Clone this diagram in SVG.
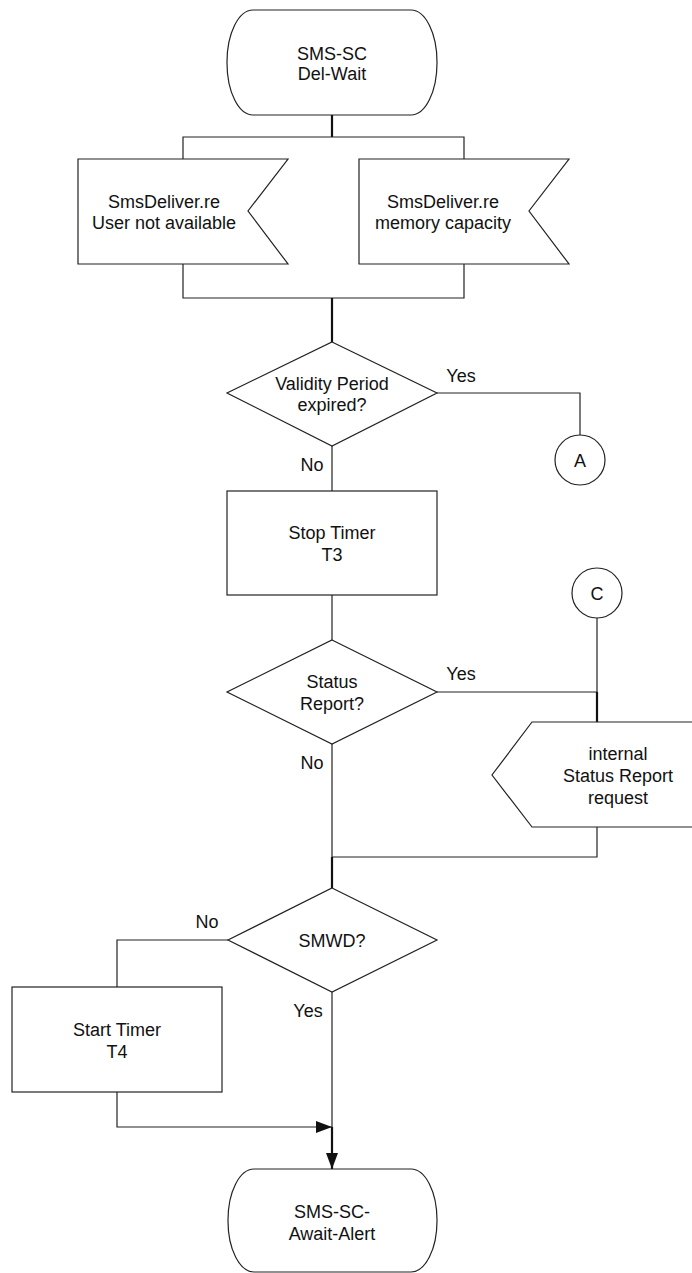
<svg xmlns="http://www.w3.org/2000/svg" width="692" height="1273" viewBox="0 0 692 1273">
<defs>
<style>
.s{fill:#fff;stroke:#222;stroke-width:1.2}
.c{fill:none;stroke:#222;stroke-width:1.2}
.b{fill:none;stroke:#111;stroke-width:2.2}
text{font-family:"Liberation Sans",Arial,sans-serif;font-size:18px;fill:#111;text-anchor:middle}
</style>
<marker id="ah" markerWidth="16" markerHeight="12" refX="16" refY="6" orient="auto" markerUnits="userSpaceOnUse">
<path d="M0,0 L16,6 L0,12 Z" fill="#111"/>
</marker>
</defs>
<rect width="692" height="1273" fill="#fff"/>
<g id="connectors">
<line class="b" x1="332" y1="115" x2="332" y2="137"/>
<polyline class="c" points="183,159 183,137 464,137 464,159"/>
<polyline class="c" points="183,264 183,298 464,298 464,264"/>
<line class="b" x1="332" y1="298" x2="332" y2="342"/>
<polyline class="c" points="437,393 580,393 580,435"/>
<line class="c" x1="332" y1="446" x2="332" y2="491"/>
<line class="c" x1="332" y1="595" x2="332" y2="640"/>
<line class="c" x1="437" y1="692" x2="597" y2="692"/>
<line class="c" x1="597" y1="618" x2="597" y2="692"/>
<line class="b" x1="597" y1="692" x2="597" y2="722"/>
<polyline class="c" points="597,827 597,857 332,857"/>
<line class="c" x1="332" y1="744" x2="332" y2="857"/>
<line class="b" x1="332" y1="857" x2="332" y2="888"/>
<polyline class="c" points="228,940 117,940 117,987"/>
<polyline class="c" points="117,1092 117,1127 332,1127" marker-end="url(#ah)"/>
<line class="c" x1="332" y1="992" x2="332" y2="1127"/>
<line class="b" x1="332" y1="1127" x2="332" y2="1169" marker-end="url(#ah)"/>
<text x="461" y="382">Yes</text>
<text x="312" y="471">No</text>
<text x="461" y="680">Yes</text>
<text x="312" y="769">No</text>
<text x="207" y="928">No</text>
<text x="308" y="1017">Yes</text>
</g>
<g id="start">
<rect class="s" x="227" y="10" width="210" height="105" rx="26" ry="52"/>
<text x="332" y="60">SMS-SC</text>
<text x="332" y="80">Del-Wait</text>
</g>
<g id="sig-user">
<polygon class="s" points="78,159 288,159 248,211 288,264 78,264"/>
<text x="164" y="208">SmsDeliver.re</text>
<text x="164" y="229">User not available</text>
</g>
<g id="sig-mem">
<polygon class="s" points="359,159 569,159 529,211 569,264 359,264"/>
<text x="443" y="208">SmsDeliver.re</text>
<text x="443" y="229">memory capacity</text>
</g>
<g id="dec-validity">
<polygon class="s" points="332,342 437,393 332,446 227,393"/>
<text x="332" y="390">Validity Period</text>
<text x="332" y="411">expired?</text>
</g>
<g id="conn-a">
<circle class="s" cx="580" cy="460" r="25"/>
<text x="580" y="467">A</text>
</g>
<g id="stop-t3">
<rect class="s" x="227" y="491" width="210" height="104"/>
<text x="332" y="539">Stop Timer</text>
<text x="332" y="561">T3</text>
</g>
<g id="conn-c">
<circle class="s" cx="597" cy="593" r="25"/>
<text x="597" y="600">C</text>
</g>
<g id="dec-status">
<polygon class="s" points="332,640 437,692 332,744 227,692"/>
<text x="332" y="688">Status</text>
<text x="332" y="710">Report?</text>
</g>
<g id="sig-internal">
<polygon class="s" points="532,722 700,722 700,827 532,827 492,775"/>
<text x="618" y="760">internal</text>
<text x="618" y="782">Status Report</text>
<text x="618" y="804">request</text>
</g>
<g id="dec-smwd">
<polygon class="s" points="332,888 437,940 332,992 228,940"/>
<text x="332" y="947">SMWD?</text>
</g>
<g id="start-t4">
<rect class="s" x="12" y="987" width="210" height="105"/>
<text x="117" y="1036">Start Timer</text>
<text x="117" y="1058">T4</text>
</g>
<g id="end">
<rect class="s" x="228" y="1169" width="209" height="103" rx="26" ry="51"/>
<text x="332" y="1218">SMS-SC-</text>
<text x="332" y="1240">Await-Alert</text>
</g>
</svg>
